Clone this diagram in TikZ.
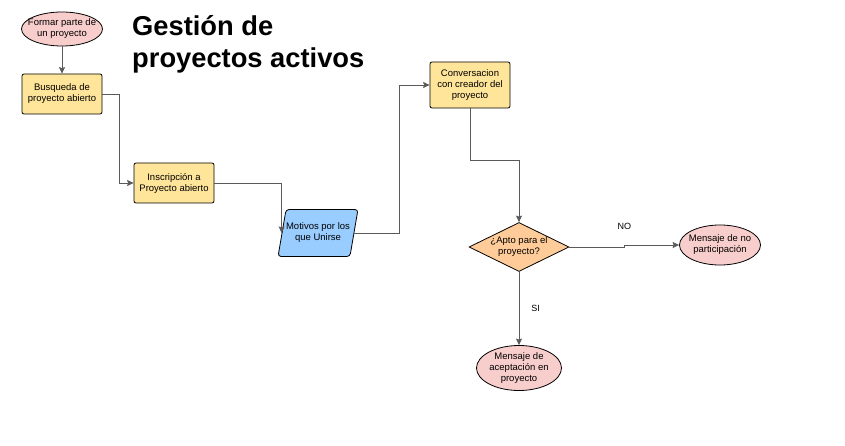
\documentclass[tikz,border=0pt]{standalone}
\usepackage{fontspec}
\setmainfont{Liberation Sans}
\usepackage{tikz}
\usetikzlibrary{arrows.meta,positioning,calc,shapes.geometric}
\definecolor{gpPink}{RGB}{248,206,204}
\definecolor{gpYellow}{RGB}{255,229,153}
\definecolor{gpBlue}{RGB}{153,204,255}
\definecolor{gpOrange}{RGB}{255,204,153}
\definecolor{gpLine}{RGB}{90,90,90}
\tikzset{
  gpText/.style={font=\fontsize{9.5}{11}\selectfont, align=center, inner sep=0pt},
  gpTerm/.style={gpText, ellipse, draw=black, thick, fill=gpPink, inner xsep=-9pt,
                 minimum width=#1, minimum height=34pt},
  gpProc/.style={gpText, draw=black, thick, rounded corners=2pt, fill=gpYellow,
                 minimum width=80pt, minimum height=#1},
  gpData/.style={gpText, trapezium, trapezium left angle=68, trapezium right angle=112,
                 draw=black, thick, rounded corners=3pt, fill=gpBlue,
                 minimum width=62pt, minimum height=47pt, trapezium stretches=true},
  gpDecision/.style={gpText, diamond, aspect=2, draw=black, thick, fill=gpOrange,
                     minimum width=100pt, minimum height=49pt},
  gpArrow/.style={-{Stealth[length=6.5pt,width=6pt,inset=1pt]}, draw=gpLine, line width=0.8pt},
  gpLabel/.style={font=\fontsize{9}{11}\selectfont, inner sep=0pt}
}
\begin{document}
\begin{tikzpicture}[x=1pt,y=-1pt]
  \useasboundingbox (0,0) rectangle (845,446);

  % title
  \node[anchor=west, align=left, inner sep=0pt, font=\fontsize{27.3}{32}\selectfont\bfseries] (titulo) at (132,44) {Gestión de\\proyectos activos};

  % nodes
  \node[gpTerm=81pt] (formar) at (62,29) {Formar parte de\\un proyecto};
  \node[gpProc=40pt] (busqueda) at (62,94) {Busqueda de\\proyecto abierto};
  \node[gpProc=40pt] (inscripcion) at (174,183) {Inscripción a\\Proyecto abierto};
  \node[gpData] (motivos) at (318,233) {Motivos por los\\que Unirse};
  \node[gpProc=46pt] (conversacion) at (470,85) {Conversacion\\con creador del\\proyecto};
  \node[gpDecision] (apto) at (519,247) {¿Apto para el\\proyecto?};
  \node[gpTerm=81pt, minimum height=40pt] (noPart) at (720,245) {Mensaje de no\\participación};
  \node[gpTerm=85pt, minimum height=45pt] (aceptacion) at (519,368) {Mensaje de\\aceptación en\\proyecto};

  % connectors
  \draw[gpArrow] (formar) -- (busqueda);
  \draw[gpArrow] (busqueda.east) -- ++(17,0) |- (inscripcion.west);
  \draw[gpArrow] (inscripcion.east) -| (motivos.west);
  \draw[gpArrow] (motivos.east) -- ++(45,0) |- (conversacion.west);
  \draw[gpArrow] (conversacion.south) -- ++(0,52) -| (apto.north);
  \draw[gpArrow] (apto.east) -- ++(55,0) |- (noPart.west) node[gpLabel, pos=0.02, above=17pt] {NO};
  \draw[gpArrow] (apto.south) -- (aceptacion.north) node[gpLabel, midway, right=12pt] {SI};
\end{tikzpicture}
\end{document}
